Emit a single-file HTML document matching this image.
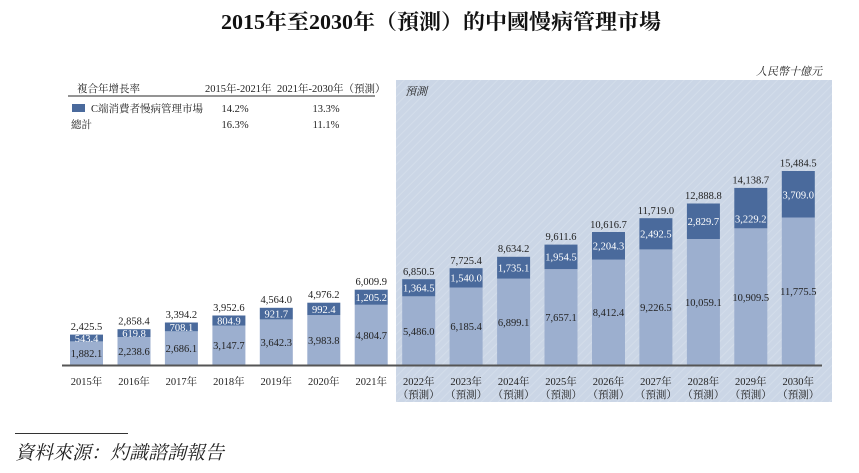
<!DOCTYPE html>
<html><head><meta charset="utf-8"><style>
html,body{margin:0;padding:0;background:#fff;}
svg{display:block;}
text{font-family:"Liberation Serif","Noto Serif CJK SC","Noto Sans CJK TC",serif;}
</style></head><body>
<svg width="859" height="473" viewBox="0 0 859 473" xmlns="http://www.w3.org/2000/svg">
<defs>
<pattern id="h" width="6" height="6" patternUnits="userSpaceOnUse" patternTransform="rotate(45)">
<rect width="6" height="6" fill="#cbd6e6"/><line x1="0" y1="0" x2="0" y2="6" stroke="#d3ddea" stroke-width="2"/>
</pattern>
</defs>
<text x="441" y="29" font-size="21" font-weight="bold" text-anchor="middle" textLength="440" lengthAdjust="spacingAndGlyphs" fill="#111">2015年至2030年（預測）的中國慢病管理市場</text>

<rect x="396" y="80" width="436" height="322" fill="url(#h)"/>
<text x="405" y="95" font-size="11" font-style="italic" fill="#222">預測</text>
<text x="822" y="75" font-size="11" font-style="italic" text-anchor="end" fill="#222">人民幣十億元</text>

<!-- legend table -->
<g font-size="10.5" fill="#222">
<text x="77" y="92">複合年增長率</text>
<text x="205" y="92">2015年-2021年</text>
<text x="277" y="92">2021年-2030年（預測）</text>
<line x1="68" y1="96" x2="375" y2="96" stroke="#555" stroke-width="1.2"/>
<rect x="72" y="104" width="13" height="8" fill="#4a6a9c"/>
<text x="91" y="112">C端消費者慢病管理市場</text>
<text x="235" y="112" text-anchor="middle">14.2%</text>
<text x="326" y="112" text-anchor="middle">13.3%</text>
<text x="71" y="128">總計</text>
<text x="235" y="128" text-anchor="middle">16.3%</text>
<text x="326" y="128" text-anchor="middle">11.1%</text>
</g>

<g id="bars">
<!-- light -->
<g fill="#9cafcf">
<rect x="70" y="341.4" width="33" height="23.6"/>
<rect x="117.5" y="337" width="33" height="28"/>
<rect x="164.9" y="331.3" width="33" height="33.7"/>
<rect x="212.4" y="325.6" width="33" height="39.4"/>
<rect x="259.8" y="319.4" width="33" height="45.6"/>
<rect x="307.3" y="315.1" width="33" height="49.9"/>
<rect x="354.7" y="304.8" width="33" height="60.2"/>
<rect x="402.2" y="296.3" width="33" height="68.7"/>
<rect x="449.6" y="287.5" width="33" height="77.5"/>
<rect x="497.1" y="278.6" width="33" height="86.4"/>
<rect x="544.5" y="269.1" width="33" height="95.9"/>
<rect x="592" y="259.6" width="33" height="105.4"/>
<rect x="639.4" y="249.4" width="33" height="115.6"/>
<rect x="686.9" y="239" width="33" height="126"/>
<rect x="734.3" y="228.3" width="33" height="136.7"/>
<rect x="781.8" y="217.5" width="33" height="147.5"/>
</g>
<g fill="#4a6a9c">
<rect x="70" y="334.6" width="33" height="6.8"/>
<rect x="117.5" y="329.2" width="33" height="7.8"/>
<rect x="164.9" y="322.5" width="33" height="8.8"/>
<rect x="212.4" y="315.5" width="33" height="10.1"/>
<rect x="259.8" y="307.8" width="33" height="11.6"/>
<rect x="307.3" y="302.7" width="33" height="12.4"/>
<rect x="354.7" y="289.7" width="33" height="15.1"/>
<rect x="402.2" y="279.2" width="33" height="17.1"/>
<rect x="449.6" y="268.2" width="33" height="19.3"/>
<rect x="497.1" y="256.8" width="33" height="21.8"/>
<rect x="544.5" y="244.6" width="33" height="24.5"/>
<rect x="592" y="232" width="33" height="27.6"/>
<rect x="639.4" y="218.2" width="33" height="31.2"/>
<rect x="686.9" y="203.5" width="33" height="35.5"/>
<rect x="734.3" y="187.9" width="33" height="40.4"/>
<rect x="781.8" y="171" width="33" height="46.5"/>
</g>
</g>
<line x1="62" y1="365.5" x2="822" y2="365.5" stroke="#555" stroke-width="2"/>

<!-- totals -->
<g font-size="10.5" fill="#222" text-anchor="middle">
<text x="86.5" y="330">2,425.5</text>
<text x="134" y="324.5">2,858.4</text>
<text x="181.4" y="318">3,394.2</text>
<text x="228.9" y="311">3,952.6</text>
<text x="276.3" y="303">4,564.0</text>
<text x="323.8" y="298">4,976.2</text>
<text x="371.2" y="285">6,009.9</text>
<text x="418.7" y="275">6,850.5</text>
<text x="466.1" y="264">7,725.4</text>
<text x="513.6" y="252">8,634.2</text>
<text x="561" y="240">9,611.6</text>
<text x="608.5" y="228">10,616.7</text>
<text x="655.9" y="214">11,719.0</text>
<text x="703.4" y="199">12,888.8</text>
<text x="750.8" y="183.5">14,138.7</text>
<text x="798.3" y="166.5">15,484.5</text>
</g>
<!-- dark labels -->
<g font-size="10.5" fill="#fff" text-anchor="middle">
<text x="86.5" y="342">543.4</text>
<text x="134" y="337">619.8</text>
<text x="181.4" y="331">708.1</text>
<text x="228.9" y="324.5">804.9</text>
<text x="276.3" y="317.5">921.7</text>
<text x="323.8" y="313">992.4</text>
<text x="371.2" y="301">1,205.2</text>
<text x="418.7" y="291.5">1,364.5</text>
<text x="466.1" y="281.5">1,540.0</text>
<text x="513.6" y="271.5">1,735.1</text>
<text x="561" y="260.5">1,954.5</text>
<text x="608.5" y="249.5">2,204.3</text>
<text x="655.9" y="237.5">2,492.5</text>
<text x="703.4" y="225">2,829.7</text>
<text x="750.8" y="222.5">3,229.2</text>
<text x="798.3" y="198.5">3,709.0</text>
</g>
<!-- light labels -->
<g font-size="10.5" fill="#222" text-anchor="middle">
<text x="86.5" y="357">1,882.1</text>
<text x="134" y="355">2,238.6</text>
<text x="181.4" y="352">2,686.1</text>
<text x="228.9" y="349">3,147.7</text>
<text x="276.3" y="346">3,642.3</text>
<text x="323.8" y="344">3,983.8</text>
<text x="371.2" y="339">4,804.7</text>
<text x="418.7" y="335">5,486.0</text>
<text x="466.1" y="330">6,185.4</text>
<text x="513.6" y="326">6,899.1</text>
<text x="561" y="321">7,657.1</text>
<text x="608.5" y="316">8,412.4</text>
<text x="655.9" y="311">9,226.5</text>
<text x="703.4" y="306">10,059.1</text>
<text x="750.8" y="301">10,909.5</text>
<text x="798.3" y="295">11,775.5</text>
</g>
<!-- year labels -->
<g font-size="10.5" fill="#222" text-anchor="middle">
<text x="86.5" y="385">2015年</text>
<text x="134" y="385">2016年</text>
<text x="181.4" y="385">2017年</text>
<text x="228.9" y="385">2018年</text>
<text x="276.3" y="385">2019年</text>
<text x="323.8" y="385">2020年</text>
<text x="371.2" y="385">2021年</text>
<text x="418.7" y="385">2022年</text><text x="418.7" y="398">（預測）</text>
<text x="466.1" y="385">2023年</text><text x="466.1" y="398">（預測）</text>
<text x="513.6" y="385">2024年</text><text x="513.6" y="398">（預測）</text>
<text x="561" y="385">2025年</text><text x="561" y="398">（預測）</text>
<text x="608.5" y="385">2026年</text><text x="608.5" y="398">（預測）</text>
<text x="655.9" y="385">2027年</text><text x="655.9" y="398">（預測）</text>
<text x="703.4" y="385">2028年</text><text x="703.4" y="398">（預測）</text>
<text x="750.8" y="385">2029年</text><text x="750.8" y="398">（預測）</text>
<text x="798.3" y="385">2030年</text><text x="798.3" y="398">（預測）</text>
</g>

<line x1="15" y1="433.5" x2="128" y2="433.5" stroke="#333" stroke-width="1"/>
<text x="15" y="459" font-size="19" font-style="italic" fill="#222">資料來源：灼識諮詢報告</text>
</svg>
</body></html>
